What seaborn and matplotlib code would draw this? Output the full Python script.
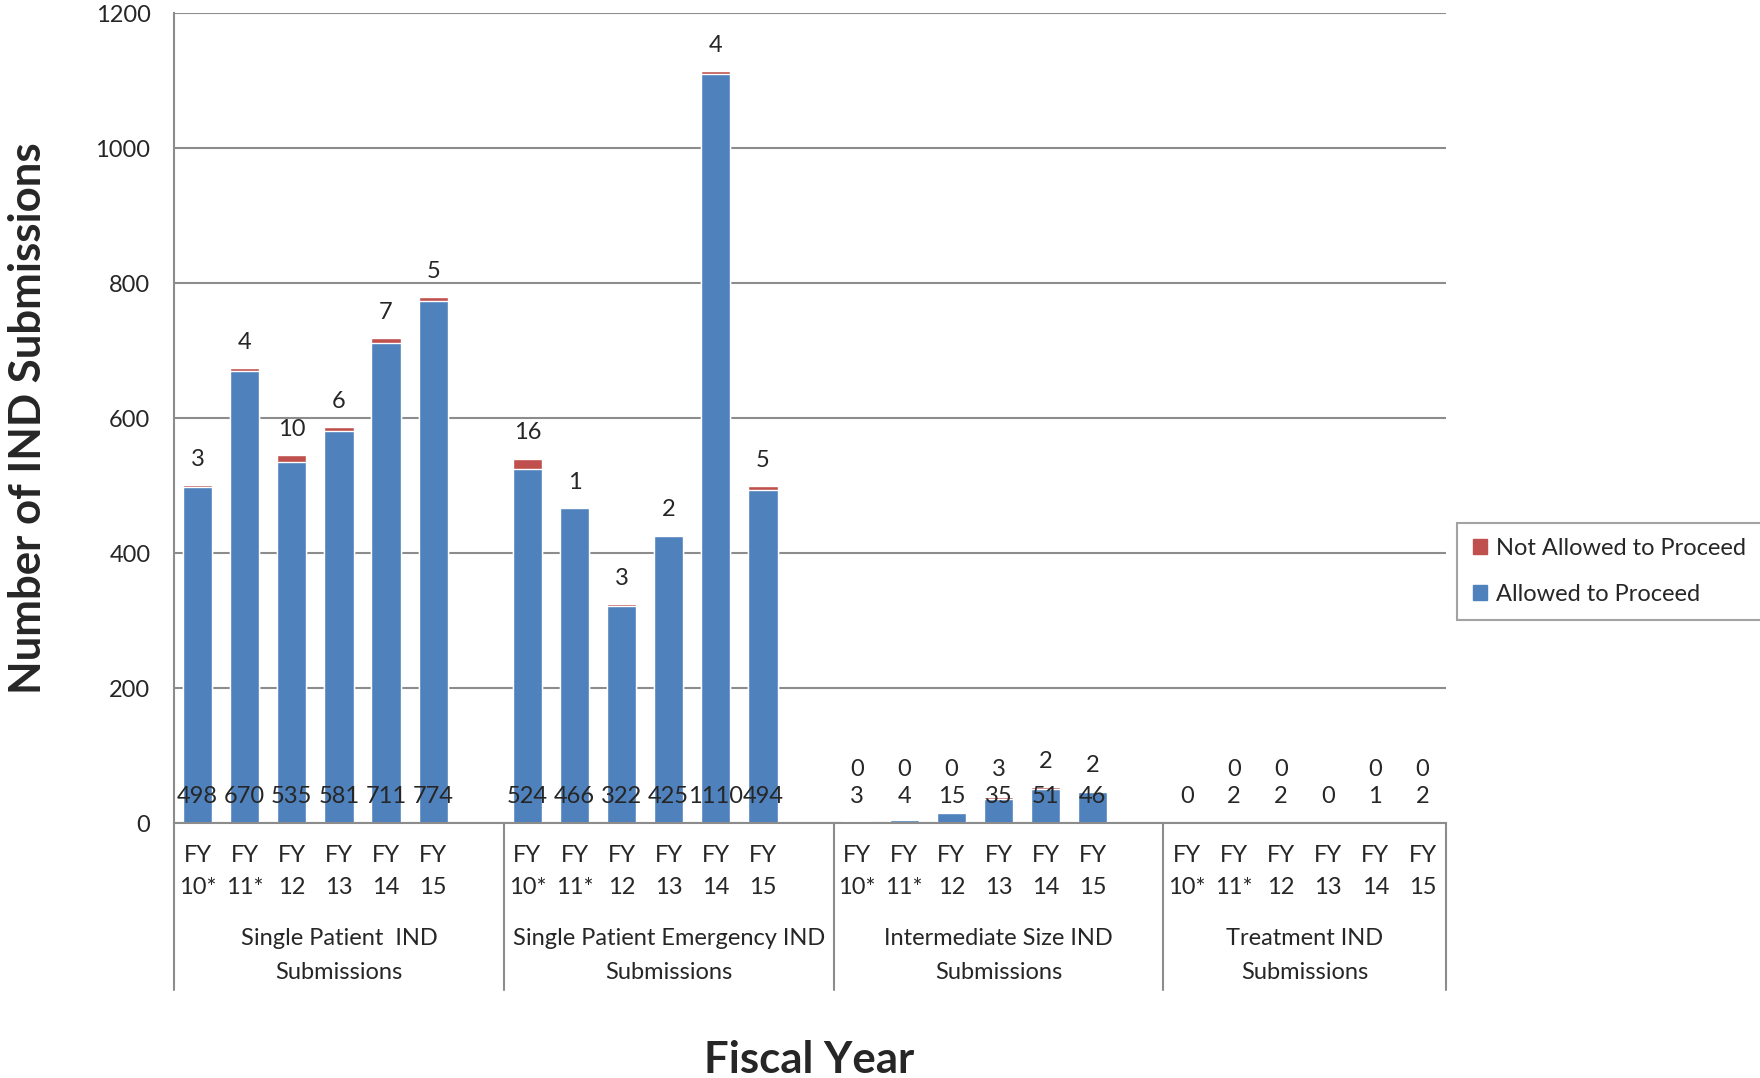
import seaborn as sns
import matplotlib.pyplot as plt
import pandas as pd
import numpy as np

sns.set_style("white")
plt.rcParams["font.family"] = ["Lato", "DejaVu Sans"]

# data
groups = ["Single Patient  IND\nSubmissions",
          "Single Patient Emergency IND\nSubmissions",
          "Intermediate Size IND\nSubmissions",
          "Treatment IND\nSubmissions"]
years = ["FY\n10*", "FY\n11*", "FY\n12", "FY\n13", "FY\n14", "FY\n15"]

allowed_single = [498, 670, 535, 581, 711, 774]
allowed_emergency = [524, 466, 322, 425, 1110, 494]
allowed_intermediate = [3, 4, 15, 35, 51, 46]
allowed_treatment = [0, 2, 2, 0, 1, 2]

notallowed_single = [3, 4, 10, 6, 7, 5]
notallowed_emergency = [16, 1, 3, 2, 4, 5]
notallowed_intermediate = [0, 0, 0, 3, 2, 2]
notallowed_treatment = [None, 0, 0, None, 0, 0]

allowed = [allowed_single, allowed_emergency, allowed_intermediate, allowed_treatment]
notallowed = [notallowed_single, notallowed_emergency, notallowed_intermediate, notallowed_treatment]

rows = []
order = []
for gi, g in enumerate(groups):
    for yi, y in enumerate(years):
        slot = f"{gi}|{y}"
        order.append(slot)
        rows.append({"slot": slot, "group": g, "fy": y,
                     "allowed": allowed[gi][yi],
                     "notallowed": notallowed[gi][yi]})
    if gi < len(groups) - 1:
        order.append(f"gap{gi}")
df = pd.DataFrame(rows)
df["notallowed"] = pd.to_numeric(df["notallowed"])
df["total"] = df["allowed"] + df["notallowed"].fillna(0)

blue = "#4F81BD"
red = "#C0504D"
grid_c = "#8C8C8C"
fs = 17

fig = plt.figure(figsize=(17.6, 10.78), dpi=100)
ax = fig.add_axes([0.0989, 0.2365, 0.7227, 0.7514])

sns.barplot(data=df, x="slot", y="total", order=order, color=red, saturation=1,
            width=0.62, errorbar=None, ax=ax)
sns.barplot(data=df, x="slot", y="allowed", order=order, color=blue, saturation=1,
            width=0.62, errorbar=None, ax=ax)

ax.set_xlim(-0.5, len(order) - 0.5)
ax.set_ylim(0, 1200)
ax.set_yticks(np.arange(0, 1201, 200))
ax.yaxis.grid(True, color=grid_c, linewidth=1.5)
ax.set_axisbelow(True)
ax.tick_params(axis="y", length=0, pad=17, labelsize=fs)
ax.set_xticks(range(len(order)))
ax.set_xticklabels([])
ax.tick_params(axis="x", length=0)
ax.set_xlabel("")
ax.set_ylabel("")
for s in ["top", "right"]:
    ax.spines[s].set_visible(False)
for s in ["left", "bottom"]:
    ax.spines[s].set_color(grid_c)
    ax.spines[s].set_linewidth(1.5)

# value labels
for _, r in df.iterrows():
    x = order.index(r["slot"])
    ax.text(x, 40, f"{r['allowed']:g}", ha="center", va="center", fontsize=fs)
    if not pd.isna(r["notallowed"]):
        ytop = max(r["total"], 42) + 38
        ax.text(x, ytop, f"{r['notallowed']:g}", ha="center", va="center", fontsize=fs)

# multi-level category axis
trans = ax.get_xaxis_transform()
for _, r in df.iterrows():
    x = order.index(r["slot"])
    top, bottom = r["fy"].split("\n")
    ax.text(x, -0.04, top, transform=trans, ha="center", va="center", fontsize=fs)
    ax.text(x, -0.08, bottom, transform=trans, ha="center", va="center", fontsize=fs)

seps = [-0.5] + [order.index(f"gap{i}") + 0.5 for i in range(len(groups) - 1)] + [len(order) - 0.5]
for xs in seps:
    ax.plot([xs, xs], [0, -0.206], transform=trans, color=grid_c, lw=1.5, clip_on=False)
for gi, g in enumerate(groups):
    mid = (seps[gi] + seps[gi + 1]) / 2
    line1, line2 = g.split("\n")
    ax.text(mid, -0.143, line1, transform=trans, ha="center", va="center", fontsize=fs)
    ax.text(mid, -0.184, line2, transform=trans, ha="center", va="center", fontsize=fs)

fig.text(0.46, 0.017, "Fiscal Year", ha="center", va="center", fontsize=31.5, weight="bold")
fig.text(0.016, 0.612, "Number of IND Submissions", ha="center", va="center",
         rotation=90, fontsize=31.5, weight="bold")

handles = [plt.Rectangle((0, 0), 1, 1, color=red), plt.Rectangle((0, 0), 1, 1, color=blue)]
leg = fig.legend(handles, ["Not Allowed to Proceed", "Allowed to Proceed"],
                 loc="upper left", bbox_to_anchor=(0.828, 0.515), fontsize=fs,
                 fancybox=False, frameon=True, handlelength=0.6, handleheight=0.6,
                 labelspacing=1.05, borderpad=0.65, handletextpad=0.4, borderaxespad=0)
leg.get_frame().set_edgecolor(grid_c)
leg.get_frame().set_linewidth(1.5)

fig.savefig("out.png", dpi=100)
plt.close()
